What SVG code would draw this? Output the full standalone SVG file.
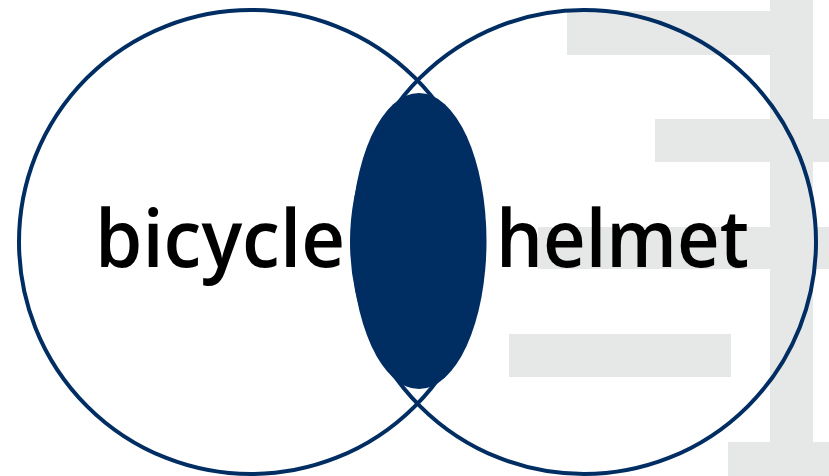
<svg xmlns="http://www.w3.org/2000/svg" width="829" height="476" viewBox="0 0 829 476">
<style>
.bg{fill:#e6e7e7}
.ring{fill:none;stroke:#002d62;stroke-width:4}
.lbl{font-family:"Open Sans","Noto Sans",sans-serif;font-weight:600;font-size:79px;fill:#000}
</style>
<rect width="829" height="476" fill="#fff"/>
<g id="background">
<rect class="bg" x="770" y="0" width="43" height="476"/>
<rect class="bg" x="567" y="11" width="203" height="44"/>
<rect class="bg" x="655" y="119" width="174" height="43"/>
<rect class="bg" x="538" y="227" width="291" height="42"/>
<rect class="bg" x="509" y="334" width="222" height="43"/>
<rect class="bg" x="728" y="442" width="101" height="34"/>
</g>
<g id="intersection">
<ellipse cx="419" cy="241" rx="67.5" ry="148" fill="#002d62"/>
</g>
<g id="bicycle">
<circle class="ring" cx="251" cy="242" r="232"/>
<text class="lbl" x="95" y="267" textLength="250" lengthAdjust="spacingAndGlyphs">bicycle</text>
</g>
<g id="helmet">
<circle class="ring" cx="584" cy="242" r="232"/>
<text class="lbl" x="496" y="267" textLength="253" lengthAdjust="spacingAndGlyphs">helmet</text>
</g>
<g id="connectors"></g>
</svg>
